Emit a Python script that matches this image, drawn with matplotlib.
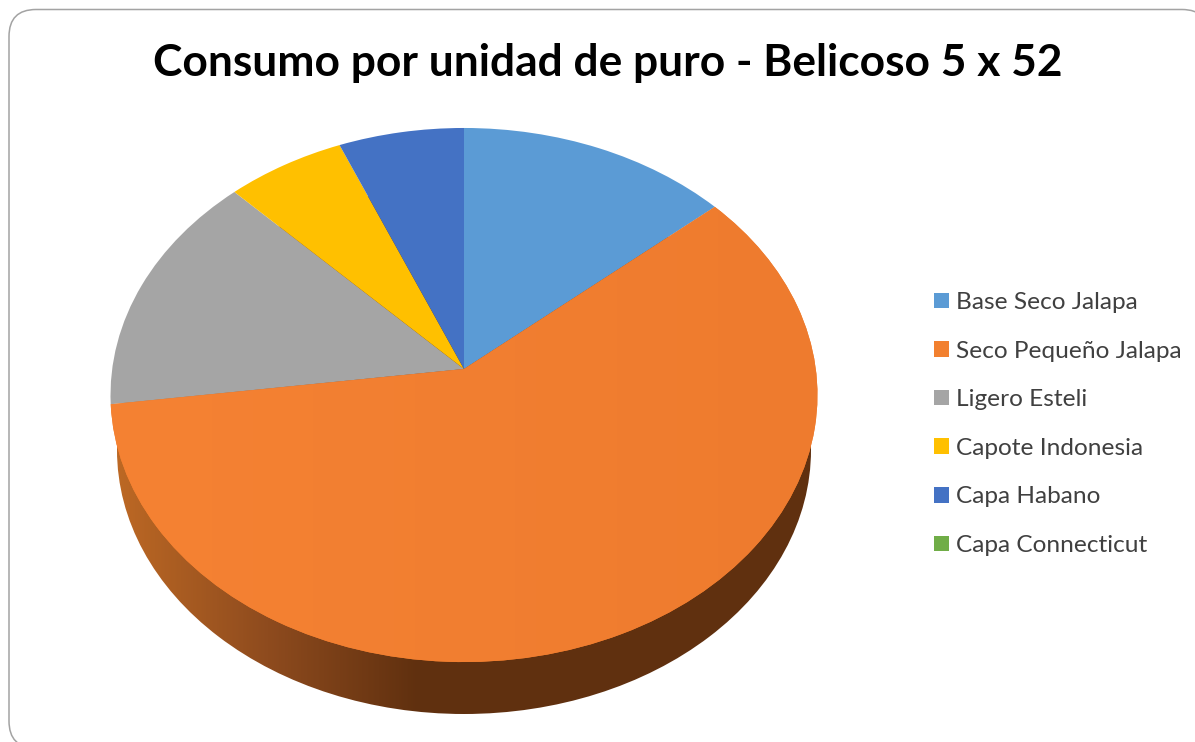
import matplotlib
matplotlib.use("Agg")
import matplotlib.pyplot as plt
from matplotlib.colors import LinearSegmentedColormap
from matplotlib.patches import Ellipse, FancyBboxPatch
from matplotlib.transforms import Transform
import numpy as np

title = "Consumo por unidad de puro - Belicoso 5 x 52"
labels = ["Base Seco Jalapa", "Seco Pequeño Jalapa", "Ligero Esteli",
          "Capote Indonesia", "Capa Habano", "Capa Connecticut"]
values = [13.7, 59.2, 14.8, 6.0, 6.3, 0]
colors = ["#5B9BD5", "#F2802F", "#A5A5A5", "#FFC000", "#4472C4", "#70AD47"]


class Tilt(Transform):
    # perspective view of the unit disc, output in pixels
    input_dims = 2
    output_dims = 2

    def transform_non_affine(self, xy):
        xy = np.asarray(xy, dtype=float)
        w = 1 + 0.0974 * xy[:, 1]
        return np.column_stack((464 + 351.8 * xy[:, 0] / w,
                                369 - 264.5 * xy[:, 1] / w))


fig = plt.figure(figsize=(11.95, 7.42), dpi=100)
ax = fig.add_axes([0, 0, 1, 1])

wedges, _ = ax.pie(values, colors=colors, startangle=90, counterclock=False)
ax.set_aspect("auto")
ax.set_xlim(0, 1195)
ax.set_ylim(742, 0)
ax.axis("off")

frame = FancyBboxPatch((9, 9.5), 1200, 738.5,
                       boxstyle="round,pad=0,rounding_size=27",
                       fc="white", ec="#A3A3A3", lw=1.1, zorder=0)
ax.add_patch(frame)

for w in wedges:
    w.set_transform(Tilt() + ax.transData)
    w.set_linewidth(0)
    w.set_zorder(3)

# side of the disc, lit from the left
side_cmap = LinearSegmentedColormap.from_list(
    "side", ["#BC6824", "#8E4B1E", "#60300F"])
shade = np.clip((np.arange(110, 820) - 118) / 300, 0, 1)[None, :]
rim = Ellipse((464, 450), 694, 528, fc="none", ec="none", zorder=1)
ax.add_patch(rim)
im = ax.imshow(shade, cmap=side_cmap, extent=(110, 820, 720, 180),
               aspect="auto", zorder=2)
im.set_clip_path(rim)

# faint left to right falloff on the big slice
top_cmap = LinearSegmentedColormap.from_list("top", ["#F58233", "#EE7B2E"])
glow = np.linspace(0, 1, 256)[None, :]
im2 = ax.imshow(glow, cmap=top_cmap, extent=(110, 820, 670, 200),
                aspect="auto", zorder=4)
im2.set_clip_path(wedges[1])

ax.set_xlim(0, 1195)
ax.set_ylim(742, 0)

ax.text(607.5, 76, title, family="Lato", weight="bold", fontsize=31.9,
        color="black", ha="center", va="baseline", zorder=5)

ax.legend(wedges, labels, loc="upper left", frameon=False,
          bbox_to_anchor=(934 / 1195, 1 - 292 / 742),
          prop={"family": "Lato", "size": 17.6}, labelcolor="#404040",
          handlelength=0.61, handleheight=0.61, handletextpad=0.29,
          labelspacing=1.13, borderpad=0, borderaxespad=0)

fig.savefig("out.png", dpi=100)
